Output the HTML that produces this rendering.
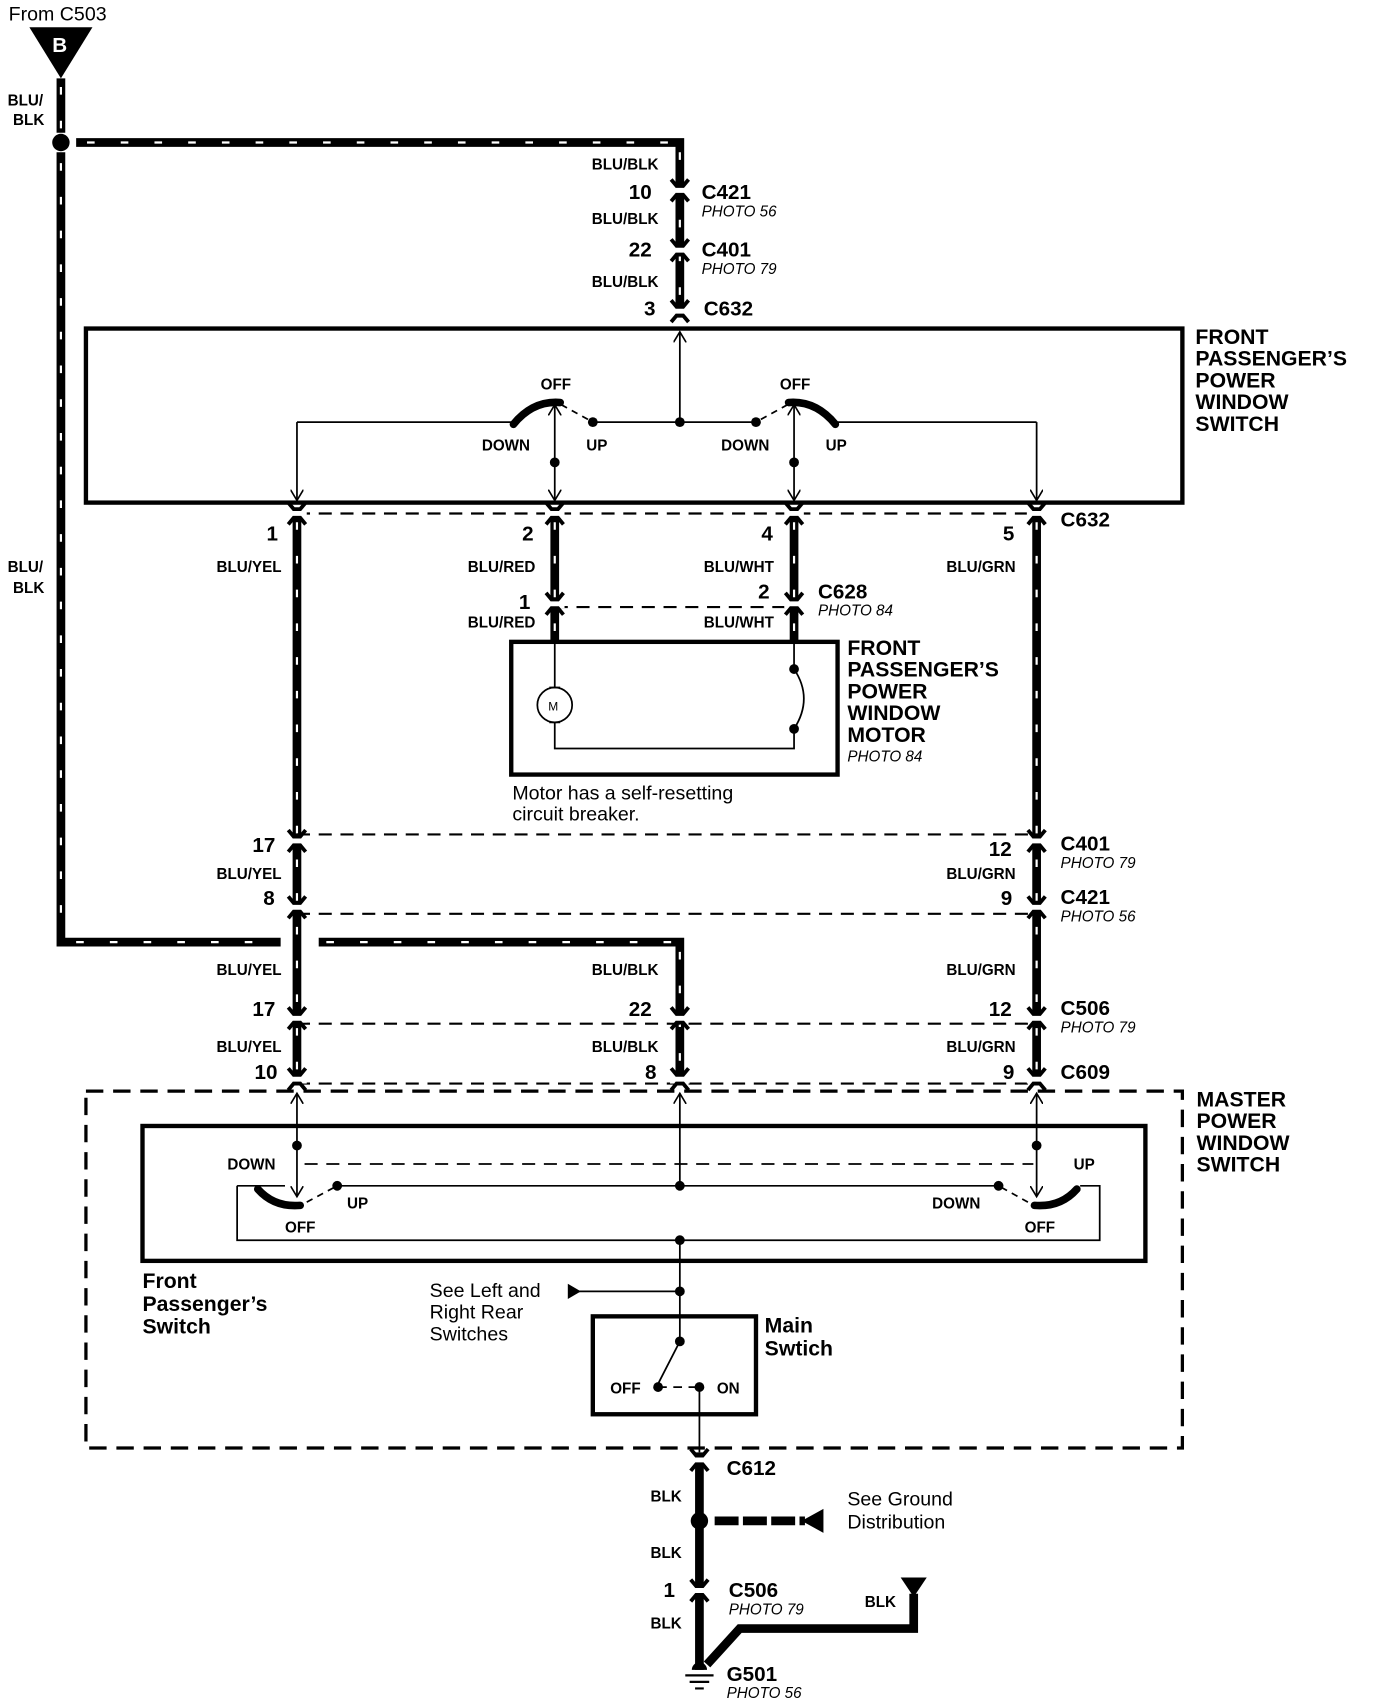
<!DOCTYPE html>
<html><head><meta charset="utf-8"><style>
html,body{margin:0;padding:0;background:#fff;}
svg{display:block;}
text{font-family:"Liberation Sans",Arial,sans-serif;fill:#000;}
.s{font-size:14px;font-weight:bold;}
.c{font-size:19px;font-weight:bold;}
.p{font-size:14px;font-style:italic;}
.r{font-size:18px;}
.t{font-size:19.5px;font-weight:bold;}
</style></head><body>
<svg width="1376" height="1708" viewBox="0 0 1265 1570" preserveAspectRatio="none" xmlns="http://www.w3.org/2000/svg">
<defs>
<g id="cn">
<rect x="-9" y="-4" width="18" height="8" fill="#fff"/>
<path d="M-8,-10 L-3,-4 L3,-4 L8,-10" fill="none" stroke="#000" stroke-width="3.5"/>
<path d="M-8,10 L-3,4 L3,4 L8,10" fill="none" stroke="#000" stroke-width="3.5"/>
</g>
<marker id="ah" markerWidth="12" markerHeight="12" refX="10" refY="6" orient="auto" markerUnits="userSpaceOnUse"><path d="M0,0 L10,6 L0,12" fill="none" stroke="#000" stroke-width="1.5"/></marker>
</defs>

<text x="8" y="19" class="r">From C503</text>
<polygon points="27,25 85,25 56,72" fill="#000"/>
<text x="48" y="48" class="c" style="fill:#fff">B</text>

<g stroke="#000" stroke-width="8" fill="none">
<path d="M56,72 V122"/>
<path d="M56,140 V866 H258"/>
<path d="M70,131 H625 V292"/>
<path d="M273,470 V995"/>
<path d="M510,470 V590"/>
<path d="M730,470 V590"/>
<path d="M953,470 V995"/>
<path d="M293,866 H625 V995"/>
<path d="M643,1335 V1535"/>
<path d="M650,1530 L680,1497 H840 V1465"/>
</g>
<g stroke="#fff" stroke-width="2" fill="none" stroke-dasharray="7 24">
<path d="M56,80 V122"/><path d="M56,150 V860"/><path d="M80,131 H620"/><path d="M625,140 V290"/>
<path d="M273,480 V990"/><path d="M510,480 V585"/><path d="M730,480 V585"/><path d="M953,480 V990"/>
<path d="M70,866 H250"/><path d="M300,866 H620"/><path d="M625,875 V990"/>
</g>
<circle cx="56" cy="131" r="8" fill="#000"/>

<g stroke="#000" stroke-width="2" fill="none" stroke-dasharray="12 8">
<path d="M273,472 H953"/><path d="M510,558 H730"/><path d="M273,767 H953"/><path d="M273,840 H953"/><path d="M273,941 H953"/><path d="M273,996 H953"/>
<path d="M79,1003 H1087 V1331 H79 Z" stroke-width="3" stroke-dasharray="16 9"/>
</g>

<use href="#cn" x="625" y="175"/><use href="#cn" x="625" y="230"/><use href="#cn" x="625" y="286"/>
<use href="#cn" x="273" y="472"/><use href="#cn" x="510" y="472"/><use href="#cn" x="730" y="472"/><use href="#cn" x="953" y="472"/>
<use href="#cn" x="510" y="555"/><use href="#cn" x="730" y="555"/>
<use href="#cn" x="273" y="773"/><use href="#cn" x="953" y="773"/>
<use href="#cn" x="273" y="834"/><use href="#cn" x="953" y="834"/>
<use href="#cn" x="273" y="936"/><use href="#cn" x="625" y="936"/><use href="#cn" x="953" y="936"/>
<use href="#cn" x="273" y="992"/><use href="#cn" x="625" y="992"/><use href="#cn" x="953" y="992"/>
<use href="#cn" x="643" y="1342"/><use href="#cn" x="643" y="1462"/>

<rect x="79" y="302" width="1008" height="160" fill="none" stroke="#000" stroke-width="4"/>
<g stroke="#000" stroke-width="1.6" fill="none">
<path d="M273,388 H472"/><path d="M545,388 H695"/><path d="M770,388 H953"/>
<path d="M273,388 V460" marker-end="url(#ah)"/><path d="M953,388 V460" marker-end="url(#ah)"/>
<path d="M625,388 V305" marker-end="url(#ah)"/>
<path d="M510,425 V460" marker-end="url(#ah)"/><path d="M510,425 V372" marker-end="url(#ah)"/>
<path d="M730,425 V460" marker-end="url(#ah)"/><path d="M730,425 V372" marker-end="url(#ah)"/>
<path d="M516,372 L545,388" stroke-dasharray="6 5"/><path d="M724,372 L695,388" stroke-dasharray="6 5"/>
</g>
<path d="M472,390 Q490,368 515,370" stroke="#000" stroke-width="7" fill="none" stroke-linecap="round"/>
<path d="M768,390 Q750,368 725,370" stroke="#000" stroke-width="7" fill="none" stroke-linecap="round"/>
<g fill="#000"><circle cx="545" cy="388" r="4.5"/><circle cx="695" cy="388" r="4.5"/><circle cx="625" cy="388" r="4.5"/><circle cx="510" cy="425" r="4.5"/><circle cx="730" cy="425" r="4.5"/></g>
<text x="497" y="358" class="s">OFF</text><text x="717" y="358" class="s">OFF</text>
<text x="443" y="414" class="s">DOWN</text><text x="539" y="414" class="s">UP</text>
<text x="663" y="414" class="s">DOWN</text><text x="759" y="414" class="s">UP</text>

<rect x="470" y="590" width="300" height="122" fill="none" stroke="#000" stroke-width="4"/>
<g stroke="#000" stroke-width="1.6" fill="none">
<path d="M510,590 V632"/><circle cx="510" cy="648" r="16"/><path d="M510,664 V688 H730 V670"/>
<path d="M505,632 H515 M505,664 H515"/>
<path d="M730,590 V615 Q748,642 730,670"/>
</g>
<circle cx="730" cy="615" r="4.5"/><circle cx="730" cy="670" r="4.5"/>
<text x="504" y="653" style="font-size:11px">M</text>
<text x="471" y="735" class="r">Motor has a self-resetting</text>
<text x="471" y="754" class="r">circuit breaker.</text>

<rect x="131" y="1035" width="922" height="124" fill="none" stroke="#000" stroke-width="4"/>
<g stroke="#000" stroke-width="1.6" fill="none">
<path d="M218,1090 H262 M218,1090 V1140 H1011 V1090 H993"/>
<path d="M273,1053 V1005" marker-end="url(#ah)"/><path d="M625,1090 V1005" marker-end="url(#ah)"/><path d="M953,1053 V1005" marker-end="url(#ah)"/>
<path d="M273,1053 V1100" marker-end="url(#ah)"/><path d="M953,1053 V1100" marker-end="url(#ah)"/>
<path d="M280,1070 H950" stroke-dasharray="12 8"/>
<path d="M310,1090 H918"/>
<path d="M282,1105 L310,1090" stroke-dasharray="6 5"/><path d="M945,1105 L918,1090" stroke-dasharray="6 5"/>
<path d="M625,1140 V1233 L605,1272"/>
<path d="M530,1187 H625"/>
<path d="M605,1275 H643" stroke-dasharray="8 6"/><path d="M643,1275 V1335"/>
</g>
<path d="M237,1093 Q252,1110 276,1108" stroke="#000" stroke-width="7" fill="none" stroke-linecap="round"/>
<path d="M990,1093 Q975,1110 951,1108" stroke="#000" stroke-width="7" fill="none" stroke-linecap="round"/>
<polygon points="522,1180 534,1187 522,1194" fill="#000"/>
<g fill="#000"><circle cx="273" cy="1053" r="4.5"/><circle cx="953" cy="1053" r="4.5"/><circle cx="310" cy="1090" r="4.5"/><circle cx="625" cy="1090" r="4.5"/><circle cx="918" cy="1090" r="4.5"/><circle cx="625" cy="1140" r="4.5"/><circle cx="625" cy="1187" r="4.5"/><circle cx="625" cy="1233" r="4.5"/><circle cx="605" cy="1275" r="4.5"/><circle cx="643" cy="1275" r="4.5"/></g>
<rect x="545" y="1210" width="150" height="90" fill="none" stroke="#000" stroke-width="4"/>
<text x="209" y="1075" class="s">DOWN</text><text x="319" y="1111" class="s">UP</text><text x="262" y="1133" class="s">OFF</text>
<text x="987" y="1075" class="s">UP</text><text x="857" y="1111" class="s">DOWN</text><text x="942" y="1133" class="s">OFF</text>
<text x="561" y="1281" class="s">OFF</text><text x="659" y="1281" class="s">ON</text>
<text x="131" y="1184" class="t">Front</text><text x="131" y="1205" class="t">Passenger’s</text><text x="131" y="1226" class="t">Switch</text>
<text x="395" y="1192" class="r">See Left and</text><text x="395" y="1212" class="r">Right Rear</text><text x="395" y="1232" class="r">Switches</text>
<text x="703" y="1225" class="t">Main</text><text x="703" y="1246" class="t">Swtich</text>

<circle cx="643" cy="1398" r="8" fill="#000"/>
<path d="M657,1398 H740" stroke="#000" stroke-width="8" stroke-dasharray="22 4"/>
<polygon points="737,1398 757,1387 757,1409" fill="#000"/>
<polygon points="828,1450 852,1450 840,1468" fill="#000"/>
<path d="M636,1535 a7,7 0 0 1 14,0 Z" fill="#000"/>
<path d="M630,1540 H656 M634,1546 H652 M639,1552 H647" stroke="#000" stroke-width="2"/>
<text x="779" y="1384" class="r">See Ground</text><text x="779" y="1405" class="r">Distribution</text>
<text x="598" y="1380" class="s">BLK</text><text x="598" y="1432" class="s">BLK</text><text x="598" y="1497" class="s">BLK</text>
<text x="610" y="1468" class="c">1</text>
<text x="795" y="1477" class="s">BLK</text>
<text x="668" y="1356" class="c">C612</text>
<text x="670" y="1468" class="c">C506</text><text x="670" y="1484" class="p">PHOTO 79</text>
<text x="668" y="1545" class="c">G501</text><text x="668" y="1561" class="p">PHOTO 56</text>

<text x="7" y="97" class="s">BLU/</text><text x="12" y="115" class="s">BLK</text>
<text x="7" y="526" class="s">BLU/</text><text x="12" y="545" class="s">BLK</text>
<text x="544" y="156" class="s">BLU/BLK</text><text x="544" y="206" class="s">BLU/BLK</text><text x="544" y="264" class="s">BLU/BLK</text>
<text x="578" y="183" class="c">10</text><text x="578" y="236" class="c">22</text><text x="592" y="290" class="c">3</text>
<text x="645" y="183" class="c">C421</text><text x="645" y="199" class="p">PHOTO 56</text>
<text x="645" y="236" class="c">C401</text><text x="645" y="252" class="p">PHOTO 79</text>
<text x="647" y="290" class="c">C632</text>
<text x="1099" y="316" class="t">FRONT</text><text x="1099" y="336" class="t">PASSENGER’S</text><text x="1099" y="356" class="t">POWER</text><text x="1099" y="376" class="t">WINDOW</text><text x="1099" y="396" class="t">SWITCH</text>
<text x="245" y="497" class="c">1</text><text x="480" y="497" class="c">2</text><text x="700" y="497" class="c">4</text><text x="922" y="497" class="c">5</text>
<text x="975" y="484" class="c">C632</text>
<text x="199" y="526" class="s">BLU/YEL</text><text x="430" y="526" class="s">BLU/RED</text><text x="647" y="526" class="s">BLU/WHT</text><text x="870" y="526" class="s">BLU/GRN</text>
<text x="477" y="560" class="c">1</text><text x="697" y="550" class="c">2</text>
<text x="752" y="550" class="c">C628</text><text x="752" y="566" class="p">PHOTO 84</text>
<text x="430" y="577" class="s">BLU/RED</text><text x="647" y="577" class="s">BLU/WHT</text>
<text x="779" y="602" class="t">FRONT</text><text x="779" y="622" class="t">PASSENGER’S</text><text x="779" y="642" class="t">POWER</text><text x="779" y="662" class="t">WINDOW</text><text x="779" y="682" class="t">MOTOR</text><text x="779" y="700" class="p">PHOTO 84</text>
<text x="232" y="783" class="c">17</text><text x="909" y="787" class="c">12</text>
<text x="975" y="782" class="c">C401</text><text x="975" y="798" class="p">PHOTO 79</text>
<text x="199" y="808" class="s">BLU/YEL</text><text x="870" y="808" class="s">BLU/GRN</text>
<text x="242" y="832" class="c">8</text><text x="920" y="832" class="c">9</text>
<text x="975" y="831" class="c">C421</text><text x="975" y="847" class="p">PHOTO 56</text>
<text x="199" y="896" class="s">BLU/YEL</text><text x="544" y="896" class="s">BLU/BLK</text><text x="870" y="896" class="s">BLU/GRN</text>
<text x="232" y="934" class="c">17</text><text x="578" y="934" class="c">22</text><text x="909" y="934" class="c">12</text>
<text x="975" y="933" class="c">C506</text><text x="975" y="949" class="p">PHOTO 79</text>
<text x="199" y="967" class="s">BLU/YEL</text><text x="544" y="967" class="s">BLU/BLK</text><text x="870" y="967" class="s">BLU/GRN</text>
<text x="234" y="992" class="c">10</text><text x="593" y="992" class="c">8</text><text x="922" y="992" class="c">9</text>
<text x="975" y="992" class="c">C609</text>
<text x="1100" y="1017" class="t">MASTER</text><text x="1100" y="1037" class="t">POWER</text><text x="1100" y="1057" class="t">WINDOW</text><text x="1100" y="1077" class="t">SWITCH</text>
</svg>
</body></html>
